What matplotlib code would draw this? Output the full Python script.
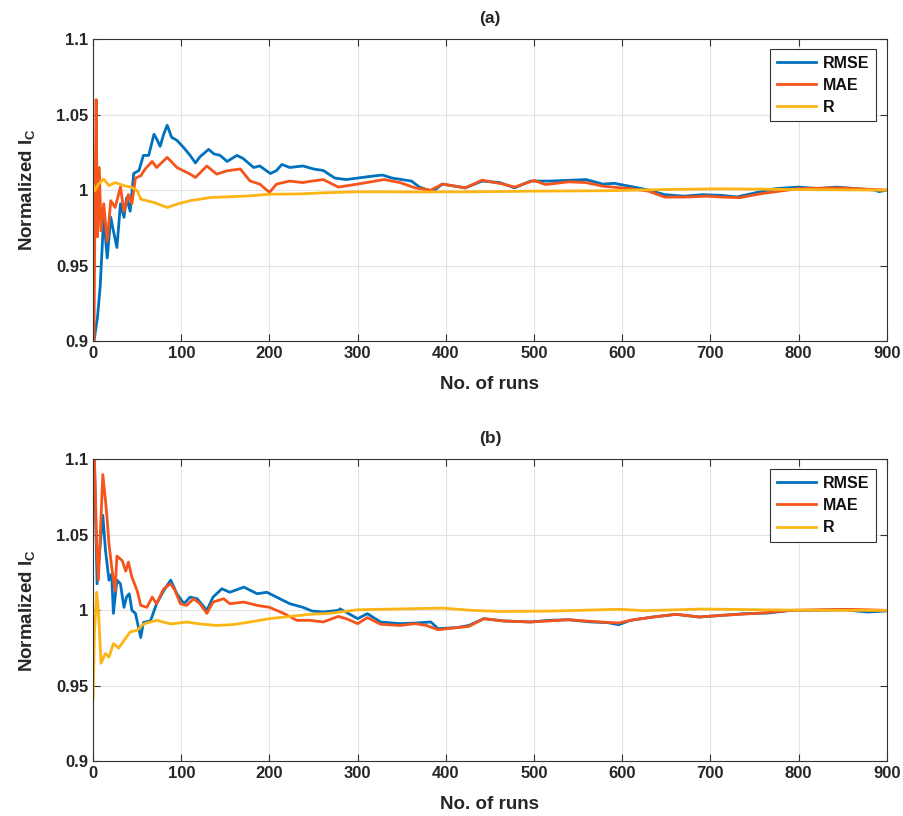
import numpy as np
import matplotlib
matplotlib.use('Agg')
from matplotlib import pyplot as plt

plt.rcParams['font.family'] = ['Liberation Sans', 'DejaVu Sans']
plt.rcParams['font.weight'] = 'bold'
plt.rcParams['mathtext.fontset'] = 'custom'
plt.rcParams['mathtext.rm'] = 'Liberation Sans:bold'
plt.rcParams['mathtext.bf'] = 'Liberation Sans:bold'
plt.rcParams['mathtext.it'] = 'Liberation Sans:bold'

# (run, normalized value)
rmse_a = [(1, 0.900), (5, 0.916), (8, 0.936), (12, 0.982), (16, 0.955), (20, 0.982), (23, 0.973),
          (27, 0.962), (31, 0.991), (35, 0.982), (38, 0.995), (42, 0.986), (46, 1.011), (52, 1.013),
          (54, 1.017), (57, 1.023), (63, 1.023), (69, 1.037), (72, 1.034), (76, 1.029), (80, 1.037),
          (84, 1.043), (89, 1.035), (95, 1.033), (103, 1.028), (110, 1.023), (116, 1.018), (121, 1.022),
          (131, 1.027), (137, 1.024), (144, 1.023), (152, 1.019), (163, 1.023), (170, 1.021),
          (182, 1.015), (189, 1.016), (201, 1.011), (208, 1.013), (214, 1.017), (223, 1.015),
          (238, 1.016), (250, 1.014), (261, 1.013), (274, 1.008), (287, 1.007), (300, 1.008),
          (313, 1.009), (328, 1.010), (339, 1.008), (361, 1.006), (370, 1.002), (385, 0.999),
          (396, 1.004), (422, 1.0015), (441, 1.006), (461, 1.005), (478, 1.0015), (496, 1.006),
          (517, 1.006), (539, 1.0065), (559, 1.007), (578, 1.004), (591, 1.0045), (609, 1.0025),
          (630, 1.000), (648, 0.997), (670, 0.996), (691, 0.997), (713, 0.9965), (730, 0.9955),
          (757, 0.999), (774, 1.001), (800, 1.002), (822, 1.001), (843, 1.002), (865, 1.001),
          (887, 1.000), (891, 0.999), (900, 1.000)]
mae_a = [(1, 0.900), (2, 0.980), (3.4, 1.060), (5, 0.969), (7, 1.015), (9, 0.973), (12, 0.991),
         (16, 0.966), (20, 0.993), (25, 0.9885), (31, 1.002), (35, 0.986), (40, 0.997), (44, 0.991),
         (48, 1.008), (54, 1.0095), (59, 1.014), (67, 1.019), (72, 1.015), (84, 1.0217), (95, 1.015),
         (110, 1.0106), (116, 1.0084), (129, 1.016), (140, 1.0106), (152, 1.0128), (167, 1.014),
         (178, 1.006), (189, 1.004), (200, 0.9985), (208, 1.004), (223, 1.006), (238, 1.005),
         (248, 1.006), (261, 1.007), (278, 1.002), (300, 1.004), (330, 1.007), (348, 1.005),
         (365, 1.0015), (383, 1.000), (396, 1.004), (422, 1.0015), (441, 1.0066), (465, 1.004),
         (478, 1.002), (500, 1.0064), (513, 1.0037), (539, 1.0055), (559, 1.005), (578, 1.0026),
         (609, 1.001), (630, 0.9993), (648, 0.9954), (670, 0.9954), (696, 0.996), (713, 0.9954),
         (733, 0.995), (757, 0.9976), (778, 0.9993), (800, 1.001), (843, 1.0015), (865, 1.001),
         (900, 1.000)]
r_a = [(0, 1.004), (2, 0.9995), (6, 1.004), (12, 1.0073), (18, 1.003), (25, 1.005), (35, 1.003),
       (44, 1.0018), (50, 0.9996), (54, 0.994), (69, 0.9918), (84, 0.9885), (95, 0.9907),
       (110, 0.993), (133, 0.9951), (155, 0.9956), (178, 0.9962), (200, 0.9973), (235, 0.9975),
       (261, 0.9982), (300, 0.9989), (365, 0.9988), (430, 0.9989), (496, 0.9993), (583, 0.9996),
       (648, 1.0004), (713, 1.0009), (800, 1.0004), (900, 1.000)]

rmse_b = [(0, 1.077), (1.5, 1.100), (4.5, 1.0176), (7.5, 1.040), (11, 1.063), (14, 1.040), (18, 1.020),
          (21, 1.024), (23, 0.998), (27, 1.020), (31, 1.0176), (35, 1.002), (38, 1.009), (41, 1.011),
          (44, 1.000), (48, 0.998), (54, 0.982), (57, 0.992), (65, 0.993), (72, 1.0044), (80, 1.013),
          (88, 1.020), (95, 1.011), (103, 1.0044), (110, 1.0088), (118, 1.0077), (129, 1.000),
          (136, 1.0088), (146, 1.0143), (155, 1.012), (171, 1.0154), (186, 1.011), (197, 1.012),
          (208, 1.0088), (223, 1.0044), (238, 1.002), (248, 0.9996), (261, 0.9989), (278, 1.000),
          (280, 1.001), (300, 0.9945), (311, 0.9978), (326, 0.9923), (348, 0.9912), (365, 0.9916),
          (383, 0.9923), (391, 0.9879), (413, 0.9886), (426, 0.990), (443, 0.9945), (465, 0.993),
          (496, 0.9923), (517, 0.9934), (539, 0.9938), (565, 0.9923), (583, 0.9919), (596, 0.9905),
          (609, 0.9934), (635, 0.9956), (661, 0.9974), (687, 0.9956), (713, 0.9967), (739, 0.9978),
          (765, 0.9982), (791, 1.000), (822, 1.000), (852, 1.0004), (878, 0.9989), (900, 0.9996)]
mae_b = [(0, 1.120), (1.5, 1.100), (4, 1.044), (6, 1.020), (11, 1.090), (14, 1.073), (16, 1.060),
         (18, 1.044), (21, 1.029), (25, 1.013), (27, 1.036), (33, 1.033), (37, 1.026), (40, 1.032),
         (44, 1.022), (50, 1.013), (54, 1.0033), (61, 1.002), (67, 1.0088), (72, 1.0044), (80, 1.0143),
         (88, 1.0176), (93, 1.013), (99, 1.0044), (106, 1.0033), (114, 1.0077), (121, 1.0044),
         (129, 0.998), (136, 1.0055), (148, 1.0077), (155, 1.0044), (171, 1.0055), (186, 1.0033),
         (200, 1.002), (216, 0.998), (231, 0.9934), (246, 0.9934), (261, 0.9923), (278, 0.996),
         (287, 0.9945), (300, 0.9912), (311, 0.9952), (326, 0.9908), (348, 0.990), (365, 0.9912),
         (378, 0.990), (391, 0.9872), (413, 0.9886), (426, 0.9894), (443, 0.9945), (465, 0.993),
         (496, 0.9923), (539, 0.9938), (565, 0.9927), (596, 0.9916), (609, 0.9934), (635, 0.9956),
         (661, 0.9974), (687, 0.9956), (713, 0.9967), (757, 0.9982), (791, 1.000), (822, 1.0004),
         (857, 1.0007), (900, 1.000)]
r_b = [(0, 0.9416), (1.5, 0.985), (4, 1.012), (6, 1.000), (9, 0.965), (14, 0.9714), (18, 0.969),
       (23, 0.978), (29, 0.975), (35, 0.980), (42, 0.9857), (50, 0.9868), (57, 0.991), (72, 0.9934),
       (88, 0.991), (106, 0.9923), (121, 0.991), (140, 0.990), (159, 0.9906), (178, 0.9923),
       (200, 0.9945), (223, 0.996), (246, 0.9974), (268, 0.998), (300, 1.0004), (343, 1.0009),
       (396, 1.0015), (430, 1.000), (461, 0.9993), (517, 0.9995), (596, 1.0007), (626, 0.9998),
       (691, 1.0009), (757, 1.0004), (822, 1.000), (900, 1.000)]

labels = ['RMSE', 'MAE', 'R']
colors = ['#0072BD', '#F5541A', '#FDB515']
titles = ['(a)', '(b)']
panels = [[rmse_a, mae_a, r_a], [rmse_b, mae_b, r_b]]

fig = plt.figure(figsize=(9.04, 8.16), dpi=100)
boxes = [[0.103, 0.582, 0.878, 0.370], [0.103, 0.067, 0.878, 0.370]]

for k in range(2):
    ax = fig.add_axes(boxes[k])
    for series, lab, col in zip(panels[k], labels, colors):
        d = np.array(series)
        ax.plot(d[:, 0], d[:, 1], color=col, lw=2.0, label=lab)
    ax.set_xlim(0, 900)
    ax.set_ylim(0.9, 1.1)
    ax.set_xticks(np.arange(0, 901, 100))
    ax.set_yticks([0.9, 0.95, 1.0, 1.05, 1.1])
    ax.set_yticklabels(['0.9', '0.95', '1', '1.05', '1.1'])
    ax.grid(True, color='#e3e3e3', lw=0.8)
    ax.tick_params(direction='in', top=True, right=True, labelsize=12, length=5,
                   color='#333333', labelcolor='#262626')
    for s in ax.spines.values():
        s.set_color('#333333')
        s.set_linewidth(0.8)
    ax.set_title(titles[k], fontsize=12.5, fontweight='bold', pad=12, color='#262626')
    ax.set_xlabel('No. of runs', fontsize=13.5, fontweight='bold', labelpad=11, color='#262626')
    ax.set_ylabel(r'Normalized I$_{C}$', fontsize=13.5, fontweight='bold', labelpad=14,
                  color='#262626')
    leg = ax.legend(loc='upper right', bbox_to_anchor=(0.986, 0.967), borderaxespad=0,
                    handlelength=2.5, fancybox=False, framealpha=1, borderpad=0.4,
                    labelspacing=0.45, handletextpad=0.4, prop={'weight': 'bold', 'size': 11.5})
    leg.get_frame().set_edgecolor('#333333')
    leg.get_frame().set_linewidth(0.8)
    for t in leg.get_texts():
        t.set_color('#111111')

fig.savefig('out.png', dpi=100)
